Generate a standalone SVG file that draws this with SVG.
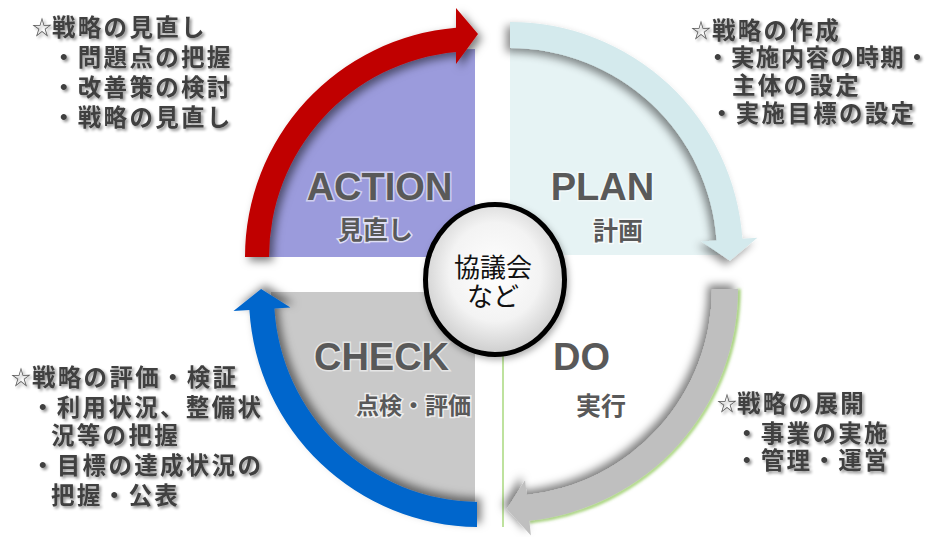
<svg xmlns="http://www.w3.org/2000/svg" width="930" height="537" viewBox="0 0 930 537">
<defs>
<style>
.side{font-family:'Noto Sans CJK JP','Noto Sans CJK SC',sans-serif;font-weight:700;font-size:23.5px;letter-spacing:2.3px;fill:#3f3f3f;filter:url(#tsh);}
.star{font-family:'Noto Sans CJK JP','DejaVu Sans',sans-serif;font-weight:400;font-size:20px;fill:#555;filter:url(#tsh);}
.big{font-family:'Liberation Sans',Arial,sans-serif;font-weight:700;font-size:38px;fill:#595959;text-anchor:middle;stroke:#fff;stroke-width:3;stroke-opacity:.55;paint-order:stroke;}
.sub{font-family:'Noto Sans CJK JP',sans-serif;font-weight:700;font-size:25px;fill:#595959;text-anchor:middle;stroke:#fff;stroke-width:3;stroke-opacity:.7;paint-order:stroke;}
.ctr{font-family:'Noto Sans CJK JP',sans-serif;font-weight:400;font-size:26px;fill:#111;text-anchor:middle;}
</style>
<filter id="tsh" x="-10%" y="-40%" width="125%" height="180%">
<feGaussianBlur in="SourceAlpha" stdDeviation="1.5"/>
<feOffset dx="2" dy="2"/>
<feComponentTransfer><feFuncA type="linear" slope="0.45"/></feComponentTransfer>
<feMerge><feMergeNode/><feMergeNode in="SourceGraphic"/></feMerge>
</filter>
<filter id="shA" x="-20%" y="-20%" width="140%" height="140%"><feDropShadow dx="4" dy="4" stdDeviation="4" flood-color="#000" flood-opacity="0.5"/></filter>
<filter id="shP" x="-20%" y="-20%" width="140%" height="140%"><feDropShadow dx="-4" dy="4" stdDeviation="4" flood-color="#000" flood-opacity="0.45"/></filter>
<filter id="shC" x="-20%" y="-20%" width="140%" height="140%"><feDropShadow dx="4" dy="-4" stdDeviation="4" flood-color="#000" flood-opacity="0.5"/></filter>
<filter id="shD" x="-20%" y="-20%" width="140%" height="140%"><feDropShadow dx="-4" dy="-4" stdDeviation="4" flood-color="#000" flood-opacity="0.5"/></filter>
<filter id="glow" x="-20%" y="-20%" width="140%" height="140%"><feGaussianBlur stdDeviation="1.5"/></filter>
<filter id="csh" x="-20%" y="-20%" width="140%" height="140%"><feDropShadow dx="2" dy="3" stdDeviation="3" flood-color="#000" flood-opacity="0.3"/></filter>
<radialGradient id="rg" cx="50%" cy="45%" r="60%">
<stop offset="0" stop-color="#ffffff"/>
<stop offset="0.55" stop-color="#f3f3f3"/>
<stop offset="1" stop-color="#c4c4c4"/>
</radialGradient>
</defs>
<rect width="930" height="537" fill="#fff"/>

<g id="action">
<path d="M475,257 L267,257 A208,208 0 0 1 475,49 Z" fill="#9b9bdc"/>
<text class="big" x="379.5" y="200">ACTION</text>
<text class="sub" x="375.5" y="238.5">見直し</text>
</g>

<g id="plan">
<path d="M510,255 L510,46 A209,209 0 0 1 719,255 Z" fill="#e6f3f4"/>
<text class="big" x="602.5" y="200">PLAN</text>
<text class="sub" x="618" y="240">計画</text>
</g>

<g id="check">
<path d="M475,292 L475,505 A209,209 0 0 1 271,292 Z" fill="#c9c9c9"/>
<text class="big" x="381.5" y="370">CHECK</text>
<text class="sub" x="413.5" y="413.5" style="font-size:23px">点検・評価</text>
</g>

<g id="do">
<line x1="503" y1="300" x2="503" y2="527" stroke="#a9d97e" stroke-width="1.5"/>
<path d="M739,289 A234,234 0 0 1 529.5,521.7" fill="none" stroke="#9fd46b" stroke-width="3" filter="url(#glow)"/>
<text class="big" x="581.5" y="370">DO</text>
<text class="sub" x="601" y="415">実行</text>
</g>

<g id="connectors">
<path id="arrow-action" d="M245,257 A230,230 0 0 1 456,27.8 L456,8 L478,34 L456,64 L456,51.9 A206,206 0 0 0 269,257 Z" fill="#c00000" filter="url(#shA)"/>
<path id="arrow-plan" d="M510,22 A233,233 0 0 1 742.4,238.7 L757.4,237.7 L729.9,260.8 L701.5,241.6 L716.5,240.6 A207,207 0 0 0 510,48 Z" fill="#d4eaed" filter="url(#shP)"/>
<path id="arrow-do" d="M738,289 A233,233 0 0 1 529.4,520.7 L530.9,535.6 L506.9,509 L525.1,479.9 L526.6,494.9 A207,207 0 0 0 712,289 Z" fill="#bfbfbf" filter="url(#shD)"/>
<path id="arrow-check" d="M477,527 A231,231 0 0 1 249.4,310.1 L233.5,311.1 L261.1,289.1 L290.4,307.6 L274.4,308.6 A206,206 0 0 0 477,502 Z" fill="#0066cc" filter="url(#shC)"/>
</g>

<g id="center">
<ellipse cx="495" cy="279.5" rx="69.5" ry="75" fill="url(#rg)" stroke="#000" stroke-width="5" filter="url(#csh)"/>
<text class="ctr" x="493" y="277">協議会</text>
<text class="ctr" x="493" y="306">など</text>
</g>

<g id="note-action">
<text class="star" x="32" y="35">☆</text>
<text class="side" x="52" y="35.5">戦略の見直し</text>
<text class="side" x="52" y="65.5">・問題点の把握</text>
<text class="side" x="52" y="95.5">・改善策の検討</text>
<text class="side" x="52" y="125.5">・戦略の見直し</text>
</g>

<g id="note-plan">
<text class="star" x="691" y="38">☆</text>
<text class="side" x="712" y="38.5">戦略の作成</text>
<text class="side" x="706" y="65.5" style="letter-spacing:1.4px">・実施内容の時期<tspan style="letter-spacing:0">・</tspan></text>
<text class="side" x="732" y="93.5">主体の設定</text>
<text class="side" x="710" y="121.5">・実施目標の設定</text>
</g>

<g id="note-check">
<text class="star" x="11" y="385">☆</text>
<text class="side" x="32" y="385.5">戦略の評価・検証</text>
<text class="side" x="31" y="415.5">・利用状況、整備状</text>
<text class="side" x="51" y="443.5">況等の把握</text>
<text class="side" x="31" y="473.5">・目標の達成状況の</text>
<text class="side" x="51" y="503.5">把握・公表</text>
</g>

<g id="note-do">
<text class="star" x="717" y="411">☆</text>
<text class="side" x="737" y="411.5">戦略の展開</text>
<text class="side" x="735" y="441.5">・事業の実施</text>
<text class="side" x="735" y="468.5">・管理・運営</text>
</g>
</svg>
